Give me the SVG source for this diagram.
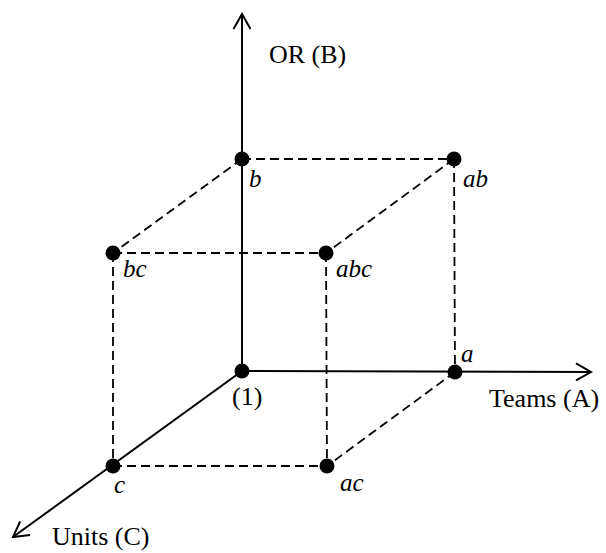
<svg xmlns="http://www.w3.org/2000/svg" width="606" height="553" viewBox="0 0 606 553">
<style>
.axis{stroke:#000;stroke-width:2;fill:none}
.dash{stroke:#000;stroke-width:1.8;fill:none;stroke-dasharray:9 5}
.dot{fill:#000}
.lbl{font-family:"Liberation Serif","Times New Roman",serif;font-size:25px;font-style:italic;fill:#000}
.ax{font-family:"Liberation Serif","Times New Roman",serif;font-size:26px;fill:#000}
</style>
<defs>
<marker id="arr" markerUnits="userSpaceOnUse" markerWidth="30" markerHeight="30" viewBox="-20 -15 30 30" refX="0" refY="0" orient="auto">
<path d="M-15,-8.5 L0,0 L-15,8.5" fill="none" stroke="#000" stroke-width="2"/>
</marker>
</defs>
<rect width="606" height="553" fill="#fff"/>
<g id="connectors">
<line class="dash" x1="242" y1="159" x2="454" y2="159"/>
<line class="dash" x1="454" y1="159" x2="455" y2="372"/>
<line class="dash" x1="242" y1="159" x2="113" y2="253"/>
<line class="dash" x1="454" y1="159" x2="326" y2="253"/>
<line class="dash" x1="113" y1="253" x2="326" y2="253"/>
<line class="dash" x1="113" y1="253" x2="113" y2="466"/>
<line class="dash" x1="326" y1="253" x2="327" y2="466"/>
<line class="dash" x1="113" y1="466" x2="327" y2="466"/>
<line class="dash" x1="455" y1="372" x2="327" y2="466"/>
<line class="axis" x1="242" y1="371" x2="242" y2="14" marker-end="url(#arr)"/>
<line class="axis" x1="242" y1="371" x2="591" y2="372" marker-end="url(#arr)"/>
<line class="axis" x1="242" y1="371" x2="13" y2="537" marker-end="url(#arr)"/>
</g>
<g id="n1"><circle class="dot" cx="242" cy="371" r="7.5"/><text class="ax" x="232" y="405">(1)</text></g>
<g id="na"><circle class="dot" cx="455" cy="372" r="7.5"/><text class="lbl" x="461" y="362">a</text></g>
<g id="nb"><circle class="dot" cx="242" cy="159" r="7.5"/><text class="lbl" x="249" y="187">b</text></g>
<g id="nab"><circle class="dot" cx="454" cy="159" r="7.5"/><text class="lbl" x="463" y="187">ab</text></g>
<g id="nbc"><circle class="dot" cx="113" cy="253" r="7.5"/><text class="lbl" x="123" y="277">bc</text></g>
<g id="nabc"><circle class="dot" cx="326" cy="253" r="7.5"/><text class="lbl" x="336" y="277">abc</text></g>
<g id="nc"><circle class="dot" cx="113" cy="466" r="7.5"/><text class="lbl" x="114" y="493">c</text></g>
<g id="nac"><circle class="dot" cx="327" cy="466" r="7.5"/><text class="lbl" x="340" y="491">ac</text></g>
<g id="axis-labels">
<text class="ax" x="269" y="63">OR (B)</text>
<text class="ax" x="489" y="407">Teams (A)</text>
<text class="ax" x="52" y="545">Units (C)</text>
</g>
</svg>
